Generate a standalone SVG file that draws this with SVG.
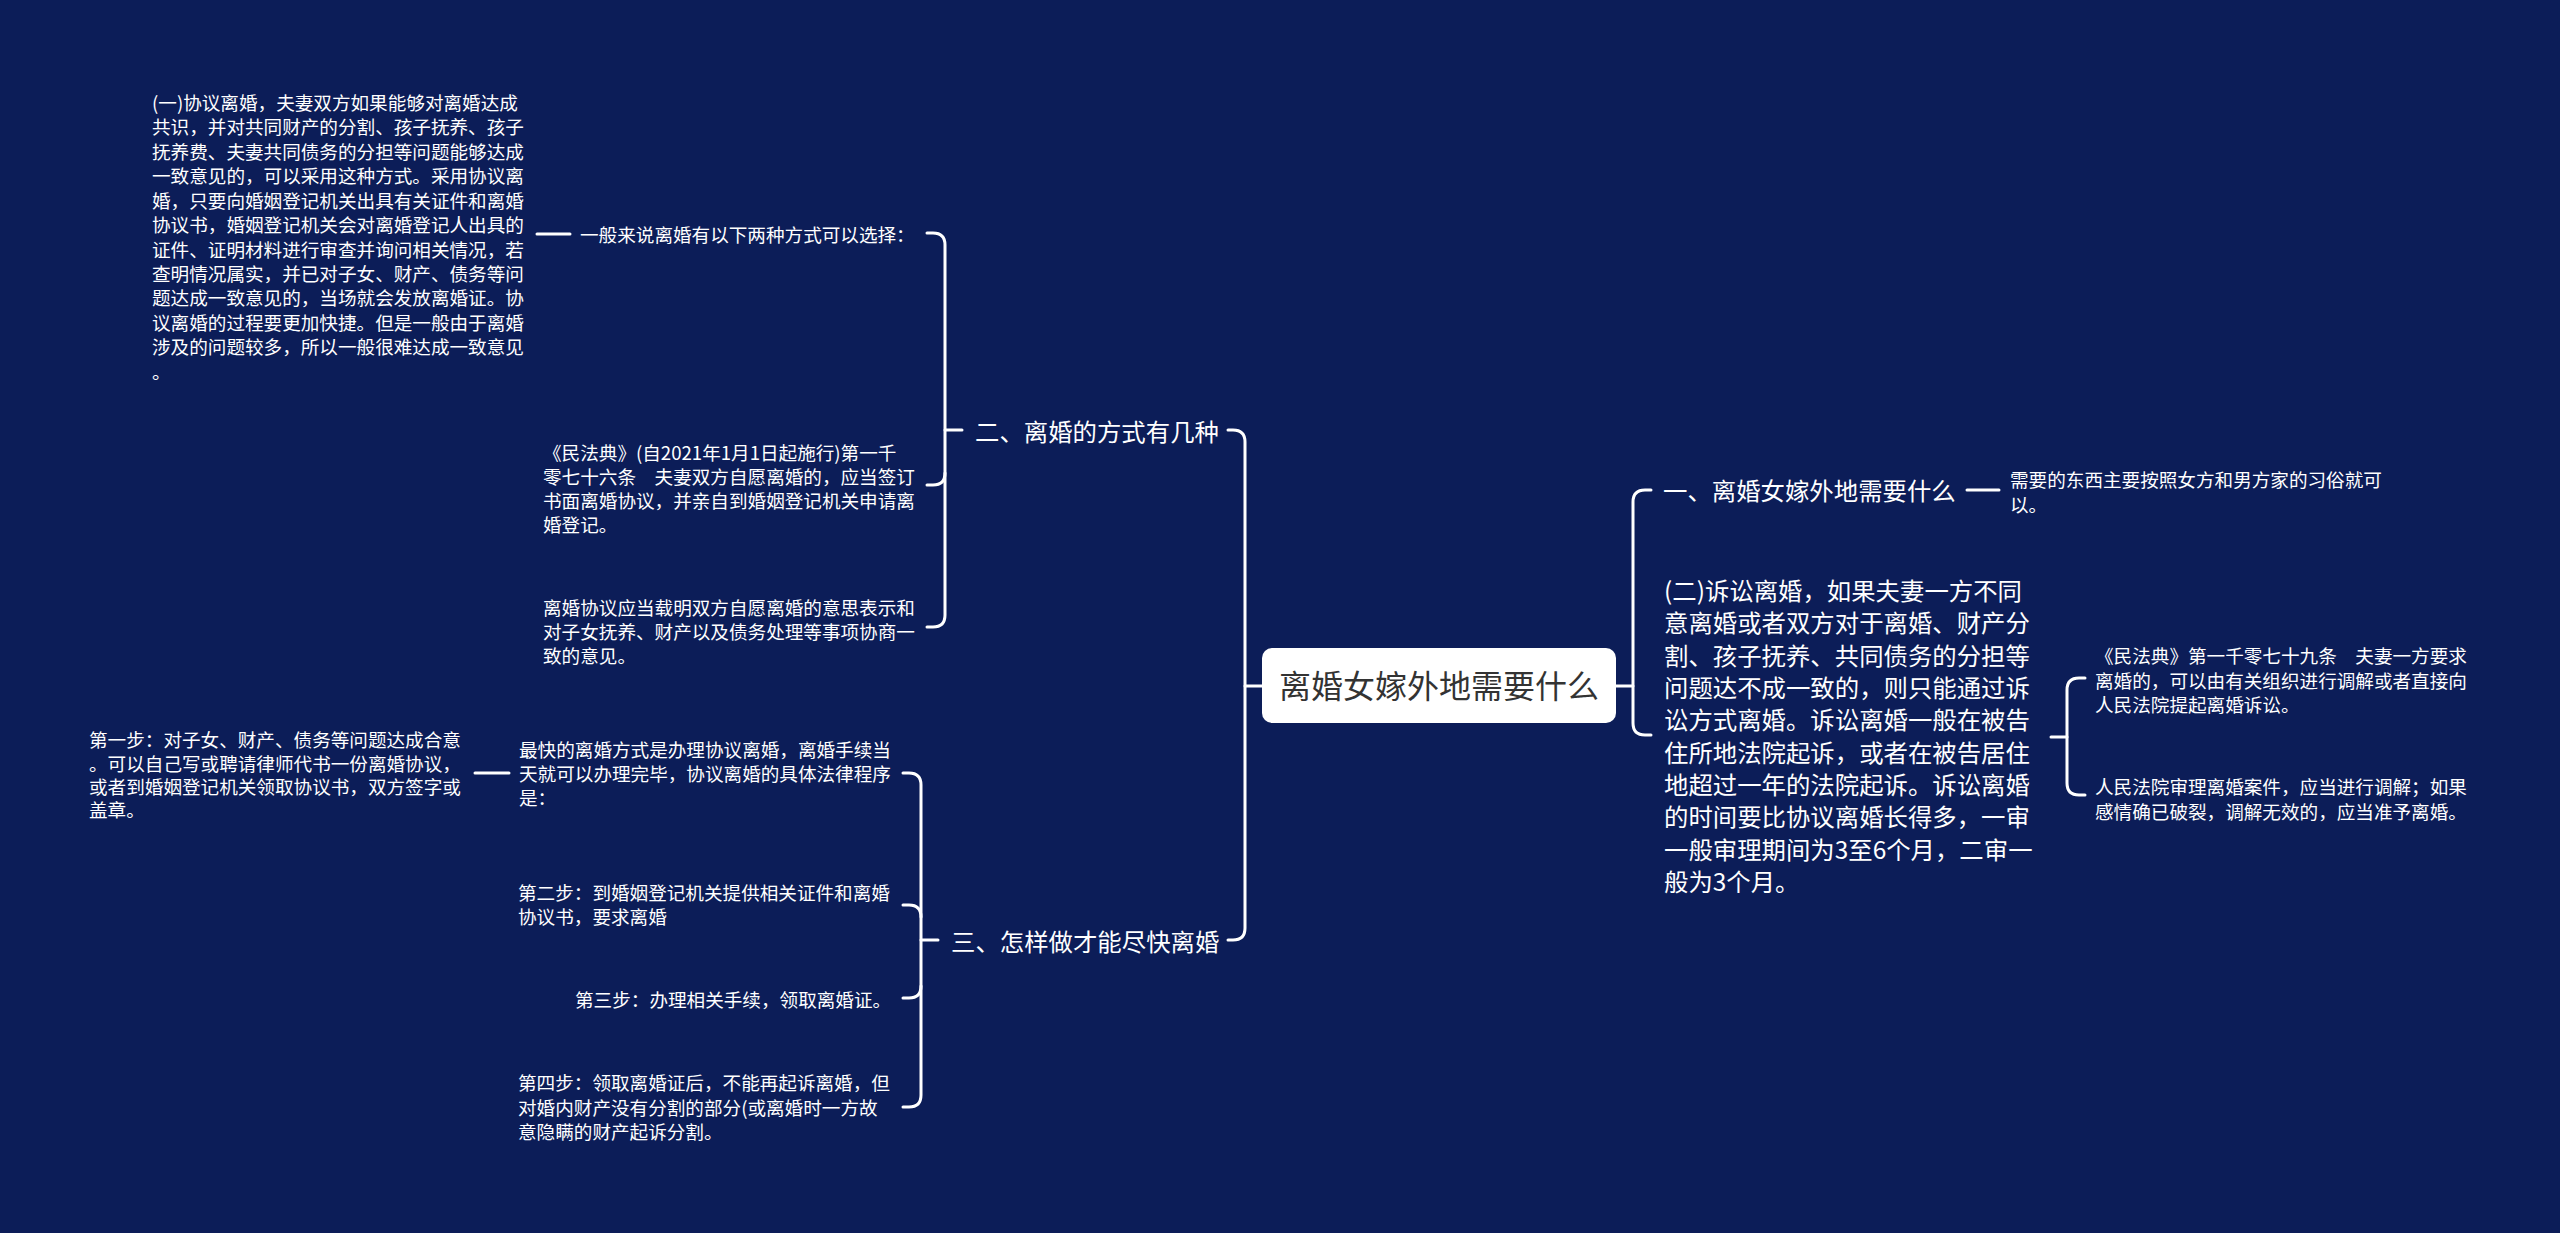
<svg xmlns="http://www.w3.org/2000/svg" width="2560" height="1233" viewBox="0 0 2560 1233">
<style>
.bg{fill:#0c1d58}
.t{font-family:"Noto Sans CJK SC","Noto Sans",sans-serif;fill:#ffffff}
.s{font-size:18.6px}
.m{font-size:24.4px}
.root{font-family:"Noto Sans CJK SC","Noto Sans",sans-serif;font-size:32px;fill:#333333}
.c{fill:none;stroke:#ffffff;stroke-width:3;stroke-linecap:round;stroke-linejoin:round}
</style>
<rect class="bg" x="0" y="0" width="2560" height="1233"/>
<g id="connectors">
<path class="c" d="M1616,686 H1633"/>
<path class="c" d="M1651,490 H1645 Q1633,490 1633,502 V723 Q1633,735 1645,735 H1651"/>
<path class="c" d="M1967,490 H1999"/>
<path class="c" d="M2051,737 H2067"/>
<path class="c" d="M2085,678 H2079 Q2067,678 2067,690 V783 Q2067,795 2079,795 H2085"/>
<path class="c" d="M1262,686 H1245"/>
<path class="c" d="M1228,430 H1233 Q1245,430 1245,442 V928 Q1245,940 1233,940 H1228"/>
<path class="c" d="M962,430 H945"/>
<path class="c" d="M927,233 H933 Q945,233 945,245 V615 Q945,627 933,627 H927"/>
<path class="c" d="M927,485 H933 Q945,485 945,473"/>
<path class="c" d="M570,234 H537"/>
<path class="c" d="M938,940 H921"/>
<path class="c" d="M903,773 H909 Q921,773 921,785 V1095 Q921,1107 909,1107 H903"/>
<path class="c" d="M903,905 H909 Q921,905 921,917"/>
<path class="c" d="M903,998 H909 Q921,998 921,986"/>
<path class="c" d="M509,773 H475"/>
</g>
<g id="root">
<rect x="1262" y="648" width="354" height="75" rx="10" fill="#ffffff"/>
<text class="root" x="1439" y="698" text-anchor="middle">离婚女嫁外地需要什么</text>
</g>
<g id="n1">
<text class="t m" x="1663" y="500">一、离婚女嫁外地需要什么</text>
</g>
<g id="n1a">
<text class="t s"><tspan x="2010" y="487">需要的东西主要按照女方和男方家的习俗就可</tspan><tspan x="2010" y="512">以。</tspan></text>
</g>
<g id="n2">
<text class="t m"><tspan x="1664" y="600">(二)诉讼离婚，如果夫妻一方不同</tspan><tspan x="1664" y="632">意离婚或者双方对于离婚、财产分</tspan><tspan x="1664" y="665">割、孩子抚养、共同债务的分担等</tspan><tspan x="1664" y="697">问题达不成一致的，则只能通过诉</tspan><tspan x="1664" y="729">讼方式离婚。诉讼离婚一般在被告</tspan><tspan x="1664" y="762">住所地法院起诉，或者在被告居住</tspan><tspan x="1664" y="794">地超过一年的法院起诉。诉讼离婚</tspan><tspan x="1664" y="826">的时间要比协议离婚长得多，一审</tspan><tspan x="1664" y="859">一般审理期间为3至6个月，二审一</tspan><tspan x="1664" y="891">般为3个月。</tspan></text>
</g>
<g id="n2a">
<text class="t s"><tspan x="2095" y="663">《民法典》第一千零七十九条　夫妻一方要求</tspan><tspan x="2095" y="688">离婚的，可以由有关组织进行调解或者直接向</tspan><tspan x="2095" y="712">人民法院提起离婚诉讼。</tspan></text>
</g>
<g id="n2b">
<text class="t s"><tspan x="2095" y="794">人民法院审理离婚案件，应当进行调解；如果</tspan><tspan x="2095" y="819">感情确已破裂，调解无效的，应当准予离婚。</tspan></text>
</g>
<g id="n3">
<text class="t m" x="975" y="441">二、离婚的方式有几种</text>
</g>
<g id="n3a">
<text class="t s" x="580" y="242">一般来说离婚有以下两种方式可以选择：</text>
</g>
<g id="n3a1">
<text class="t s"><tspan x="152" y="110">(一)协议离婚，夫妻双方如果能够对离婚达成</tspan><tspan x="152" y="134">共识，并对共同财产的分割、孩子抚养、孩子</tspan><tspan x="152" y="159">抚养费、夫妻共同债务的分担等问题能够达成</tspan><tspan x="152" y="183">一致意见的，可以采用这种方式。采用协议离</tspan><tspan x="152" y="208">婚，只要向婚姻登记机关出具有关证件和离婚</tspan><tspan x="152" y="232">协议书，婚姻登记机关会对离婚登记人出具的</tspan><tspan x="152" y="257">证件、证明材料进行审查并询问相关情况，若</tspan><tspan x="152" y="281">查明情况属实，并已对子女、财产、债务等问</tspan><tspan x="152" y="305">题达成一致意见的，当场就会发放离婚证。协</tspan><tspan x="152" y="330">议离婚的过程要更加快捷。但是一般由于离婚</tspan><tspan x="152" y="354">涉及的问题较多，所以一般很难达成一致意见</tspan><tspan x="152" y="379">。</tspan></text>
</g>
<g id="n3b">
<text class="t s"><tspan x="543" y="460">《民法典》(自2021年1月1日起施行)第一千</tspan><tspan x="543" y="484">零七十六条　夫妻双方自愿离婚的，应当签订</tspan><tspan x="543" y="508">书面离婚协议，并亲自到婚姻登记机关申请离</tspan><tspan x="543" y="532">婚登记。</tspan></text>
</g>
<g id="n3c">
<text class="t s"><tspan x="543" y="615">离婚协议应当载明双方自愿离婚的意思表示和</tspan><tspan x="543" y="639">对子女抚养、财产以及债务处理等事项协商一</tspan><tspan x="543" y="663">致的意见。</tspan></text>
</g>
<g id="n4">
<text class="t m" x="951" y="951">三、怎样做才能尽快离婚</text>
</g>
<g id="n4a">
<text class="t s"><tspan x="519" y="757">最快的离婚方式是办理协议离婚，离婚手续当</tspan><tspan x="519" y="781">天就可以办理完毕，协议离婚的具体法律程序</tspan><tspan x="519" y="805">是：</tspan></text>
</g>
<g id="n4a1">
<text class="t s"><tspan x="89" y="747">第一步：对子女、财产、债务等问题达成合意</tspan><tspan x="89" y="771">。可以自己写或聘请律师代书一份离婚协议，</tspan><tspan x="89" y="794">或者到婚姻登记机关领取协议书，双方签字或</tspan><tspan x="89" y="817">盖章。</tspan></text>
</g>
<g id="n4b">
<text class="t s"><tspan x="518" y="900">第二步：到婚姻登记机关提供相关证件和离婚</tspan><tspan x="518" y="924">协议书，要求离婚</tspan></text>
</g>
<g id="n4c">
<text class="t s" x="575" y="1007">第三步：办理相关手续，领取离婚证。</text>
</g>
<g id="n4d">
<text class="t s"><tspan x="518" y="1090">第四步：领取离婚证后，不能再起诉离婚，但</tspan><tspan x="518" y="1115">对婚内财产没有分割的部分(或离婚时一方故</tspan><tspan x="518" y="1139">意隐瞒的财产起诉分割。</tspan></text>
</g>
</svg>
